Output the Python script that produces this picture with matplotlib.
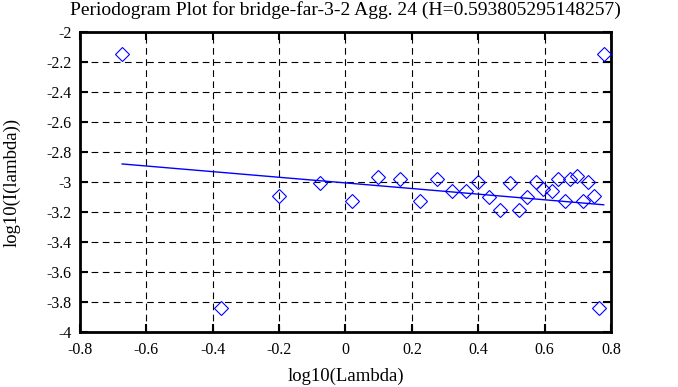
import numpy as np
import matplotlib
matplotlib.use("Agg")
from matplotlib import pyplot as plt

# periodogram points
log_lambda = [-0.673, -0.375, -0.200, -0.077, 0.019, 0.098, 0.164, 0.224, 0.275,
              0.320, 0.363, 0.399, 0.432, 0.465, 0.495, 0.522, 0.546, 0.573,
              0.595, 0.622, 0.640, 0.661, 0.676, 0.697, 0.715, 0.730, 0.748,
              0.763, 0.778]
log_I = [-2.147, -3.840, -3.090, -3.005, -3.127, -2.967, -2.980, -3.127, -2.980,
         -3.060, -3.060, -3.000, -3.100, -3.187, -3.007, -3.187, -3.100, -3.000,
         -3.047, -3.060, -2.980, -3.127, -2.980, -2.960, -3.127, -3.000, -3.093,
         -3.840, -2.147]

# fitted line: slope = 1 - 2H
H = 0.593805295148257
slope = 1 - 2 * H
intercept = -3.006

title = "Periodogram Plot for bridge-far-3-2 Agg. 24 (H=0.593805295148257)"
xticklabels = ['-0.8', '-0.6', '-0.4', '-0.2', '0', '0.2', '0.4', '0.6', '0.8']
yticklabels = ['-4', '-3.8', '-3.6', '-3.4', '-3.2', '-3', '-2.8', '-2.6',
               '-2.4', '-2.2', '-2']

plt.rcParams['font.family'] = ['Liberation Serif', 'DejaVu Serif']
plt.rcParams['font.size'] = 11.5

fig = plt.figure(figsize=(6.78, 3.87), dpi=100)
ax = fig.add_axes([80 / 678, 1 - 332 / 387, 531 / 678, 300 / 387])

ax.plot(log_lambda, log_I, linestyle='none', marker='D', markersize=7,
        markerfacecolor='none', markeredgecolor='blue', markeredgewidth=0.8,
        clip_on=False, zorder=3)

xs = np.array([log_lambda[0], log_lambda[-1]])
ax.plot(xs, slope * xs + intercept, color='blue', linewidth=1.0, zorder=2)

ax.set_xlim(-0.8, 0.8)
ax.set_ylim(-4, -2)
ax.set_xticks(np.arange(-0.8, 0.81, 0.2))
ax.set_yticks(np.arange(-4, -1.99, 0.2))
ax.set_xticklabels(xticklabels)
ax.set_yticklabels(yticklabels)

ax.grid(True, color='black', linestyle=(0, (6, 4)), linewidth=0.8)
ax.tick_params(direction='in', length=6, width=1.5, top=True, right=True,
               colors='black')
ax.tick_params(axis='x', pad=7)
ax.tick_params(axis='y', pad=6)
for s in ax.spines.values():
    s.set_linewidth(2)

ax.set_xlabel("log10(Lambda)", fontsize=13.5, va='center')
ax.xaxis.set_label_coords(0.5, (332 - 376) / 300)
ax.set_ylabel("log10(I(lambda))", fontsize=13.5, va='center')
ax.yaxis.set_label_coords((12 - 80) / 531, 0.5)

fig.text(345 / 678, 1 - 10 / 387, title, fontsize=14, ha='center', va='center')

fig.savefig("out.png", dpi=100)
